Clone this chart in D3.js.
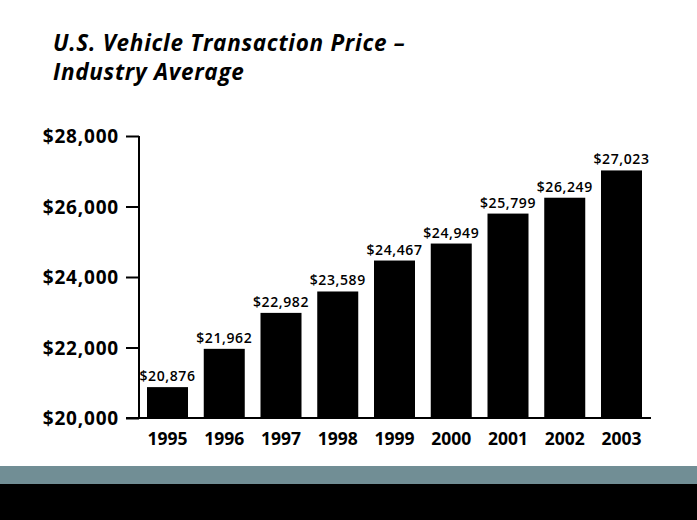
<!DOCTYPE html>
<html><head><meta charset="utf-8">
<script src="https://cdn.jsdelivr.net/npm/d3@7"></script>
<style>
html,body{margin:0;padding:0;background:#fff;}
svg{display:block;}
</style>
</head><body>
<svg id="c" width="697" height="520"></svg>
<script>
const years = ["1995","1996","1997","1998","1999","2000","2001","2002","2003"];
const prices = [20876, 21962, 22982, 23589, 24467, 24949, 25799, 26249, 27023];
const yTicks = [20000, 22000, 24000, 26000, 28000];
const titleLines = ["U.S. Vehicle Transaction Price \u2013", "Industry Average"];

const svg = d3.select("#c");
const font = "'Open Sans', sans-serif";

// title
svg.append("g").selectAll("text").data(titleLines).join("text")
  .attr("font-family", font).attr("font-weight", 700).attr("font-style", "italic")
  .attr("font-size", 22.5).attr("letter-spacing", 0.7).attr("fill", "#000")
  .attr("x", 53).attr("y", (d, i) => 51 + i * 29).text(d => d);

const x = d3.scaleBand().domain(years).range([139, 650]).paddingInner(0.2775).paddingOuter(0.141);
const y = d3.scaleLinear().domain([20000, 28000]).range([418, 136]);

// bars
svg.append("g").selectAll("rect").data(prices).join("rect")
  .attr("x", (d, i) => x(years[i])).attr("width", x.bandwidth())
  .attr("y", d => y(d)).attr("height", d => y(20000) - y(d)).attr("fill", "#000");

// value labels
const fmt = d3.format("$,");
svg.append("g").selectAll("text").data(prices).join("text")
  .attr("x", (d, i) => x(years[i]) + x.bandwidth() / 2).attr("y", d => y(d) - 6)
  .attr("text-anchor", "middle").attr("font-family", font).attr("font-weight", 600)
  .attr("font-size", 14).attr("letter-spacing", 0.6).attr("fill", "#000").text(d => fmt(d));

// y axis
const yAxis = d3.axisLeft(y).tickValues(yTicks).tickFormat(d3.format("$,")).tickSize(13).tickPadding(7);
const gy = svg.append("g").attr("transform", "translate(139,0)").call(yAxis);
gy.select(".domain").attr("d", `M0,${y(28000)}V${y(20000)}`).attr("stroke", "#000").attr("stroke-width", 2);
gy.selectAll(".tick line").attr("stroke", "#000").attr("stroke-width", 2);
gy.selectAll(".tick text").attr("font-family", font).attr("font-weight", 700).attr("font-size", 19)
  .attr("fill", "#000").attr("letter-spacing", 0.8).attr("dy", "0.35em");

// x axis
const xAxis = d3.axisBottom(x).tickSize(0).tickPadding(15);
const gx = svg.append("g").attr("transform", `translate(0,${y(20000)})`).call(xAxis);
gx.select(".domain").attr("d", `M126,0H651`).attr("stroke", "#000").attr("stroke-width", 2);
gx.selectAll(".tick text").attr("font-family", font).attr("font-weight", 700).attr("font-size", 17.5)
  .attr("fill", "#000");

// bottom bands
svg.append("rect").attr("x", 0).attr("y", 466).attr("width", 697).attr("height", 18).attr("fill", "#718e95");
svg.append("rect").attr("x", 0).attr("y", 484).attr("width", 697).attr("height", 36).attr("fill", "#000");
</script>
</body></html>
